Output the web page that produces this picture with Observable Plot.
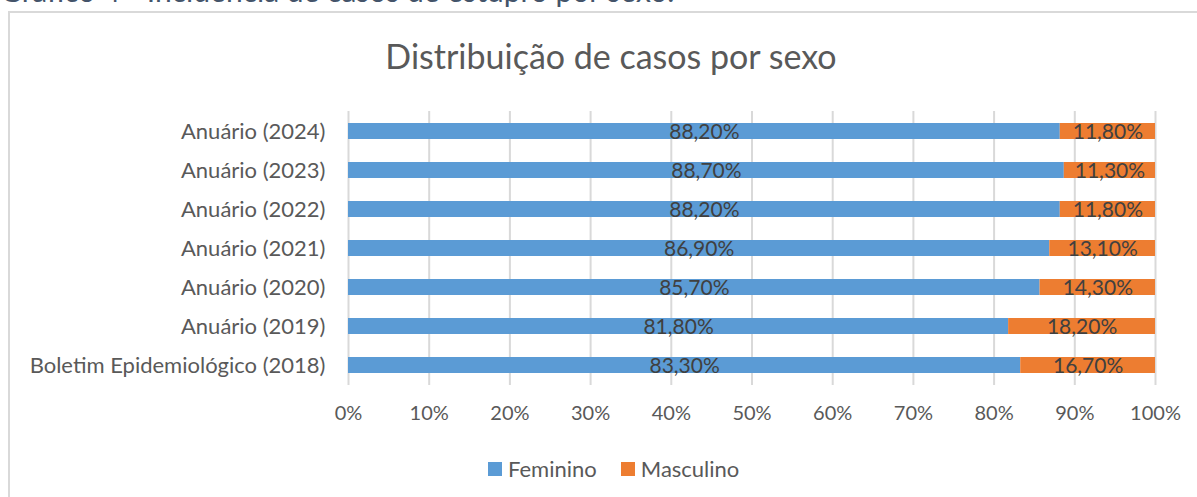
<!DOCTYPE html>
<html>
<head>
<meta charset="utf-8">
<script src="https://cdn.jsdelivr.net/npm/d3@7"></script>
<script src="https://cdn.jsdelivr.net/npm/@observablehq/plot@0.6"></script>
<style>
  html, body { margin: 0; padding: 0; background: #fff; overflow: hidden; }
  body { width: 1197px; height: 497px; position: relative; font-family: Lato, "Open Sans", sans-serif; }
  #caption { position: absolute; left: 0px; top: -25px; font-size: 30px; color: #44546A; white-space: nowrap; line-height: 1; }
  #frame { position: absolute; left: 8px; top: 11px; width: 1220px; height: 520px; border: 2px solid #d9d9d9; box-sizing: border-box; }
  #title { position: absolute; left: 0; width: 1222px; top: 36px; text-align: center; font-size: 34px; color: #595959; line-height: 1.2; }
  #chart { position: absolute; left: 0; top: 0; }
  #legend { position: absolute; top: 456px; left: 488px; font-size: 22px; color: #595959; display: flex; align-items: center; line-height: 1.2; }
  .item { display: flex; align-items: center; margin-right: 24px; }
  .sw { width: 14px; height: 14px; display: inline-block; margin-right: 6px; }
</style>
</head>
<body>
<div id="caption">Gráfico 4 - Incidência de casos de estupro por sexo.</div>
<div id="frame"></div>
<div id="title">Distribuição de casos por sexo</div>
<div id="chart"></div>
<div id="legend"></div>
<script>
const categories = ["Anuário (2024)", "Anuário (2023)", "Anuário (2022)", "Anuário (2021)", "Anuário (2020)", "Anuário (2019)", "Boletim Epidemiológico (2018)"];
const feminino = [88.2, 88.7, 88.2, 86.9, 85.7, 81.8, 83.3];
const masculino = [11.8, 11.3, 11.8, 13.1, 14.3, 18.2, 16.7];
const sexes = ["Feminino", "Masculino"];
const colors = ["#5B9BD5", "#ED7D31"];
const xTicks = [0, 10, 20, 30, 40, 50, 60, 70, 80, 90, 100];

const data = [];
categories.forEach((c, i) => {
  data.push({cat: c, sex: "Feminino", value: feminino[i]});
  data.push({cat: c, sex: "Masculino", value: masculino[i]});
});

const fmt = v => v.toFixed(2).replace(".", ",") + "%";

const chart = Plot.plot({
  width: 1197,
  height: 497,
  marginLeft: 348,
  marginRight: 42,
  marginTop: 111,
  marginBottom: 112,
  style: {fontFamily: "Lato, 'Open Sans', sans-serif", background: "transparent", color: "#595959"},
  x: {domain: [0, 100], ticks: xTicks, tickFormat: d => d + "%", label: null},
  y: {domain: categories, paddingInner: 0.6, paddingOuter: 0.3, label: null},
  color: {domain: sexes, range: colors},
  marks: [
    Plot.ruleX(xTicks, {stroke: "#d9d9d9", strokeWidth: 2}),
    Plot.barX(data, Plot.stackX({x: "value", y: "cat", fill: "sex", order: sexes})),
    Plot.text(data, Plot.stackX({x: "value", y: "cat", z: "sex", order: sexes, text: d => fmt(d.value), fill: "#404040", fontSize: 21, dy: 1})),
    Plot.axisX({ticks: xTicks, tickFormat: d => d + "%", tickSize: 0, tickPadding: 20, fontSize: 20, fill: "#595959", label: null}),
    Plot.axisY({tickSize: 0, tickPadding: 23, fontSize: 22, fill: "#595959", label: null})
  ]
});
document.getElementById("chart").appendChild(chart);

const legend = document.getElementById("legend");
sexes.forEach((s, i) => {
  const item = document.createElement("div");
  item.className = "item";
  const sw = document.createElement("span");
  sw.className = "sw";
  sw.style.background = colors[i];
  item.appendChild(sw);
  const t = document.createElement("span");
  t.textContent = s;
  item.appendChild(t);
  legend.appendChild(item);
});
</script>
</body>
</html>
